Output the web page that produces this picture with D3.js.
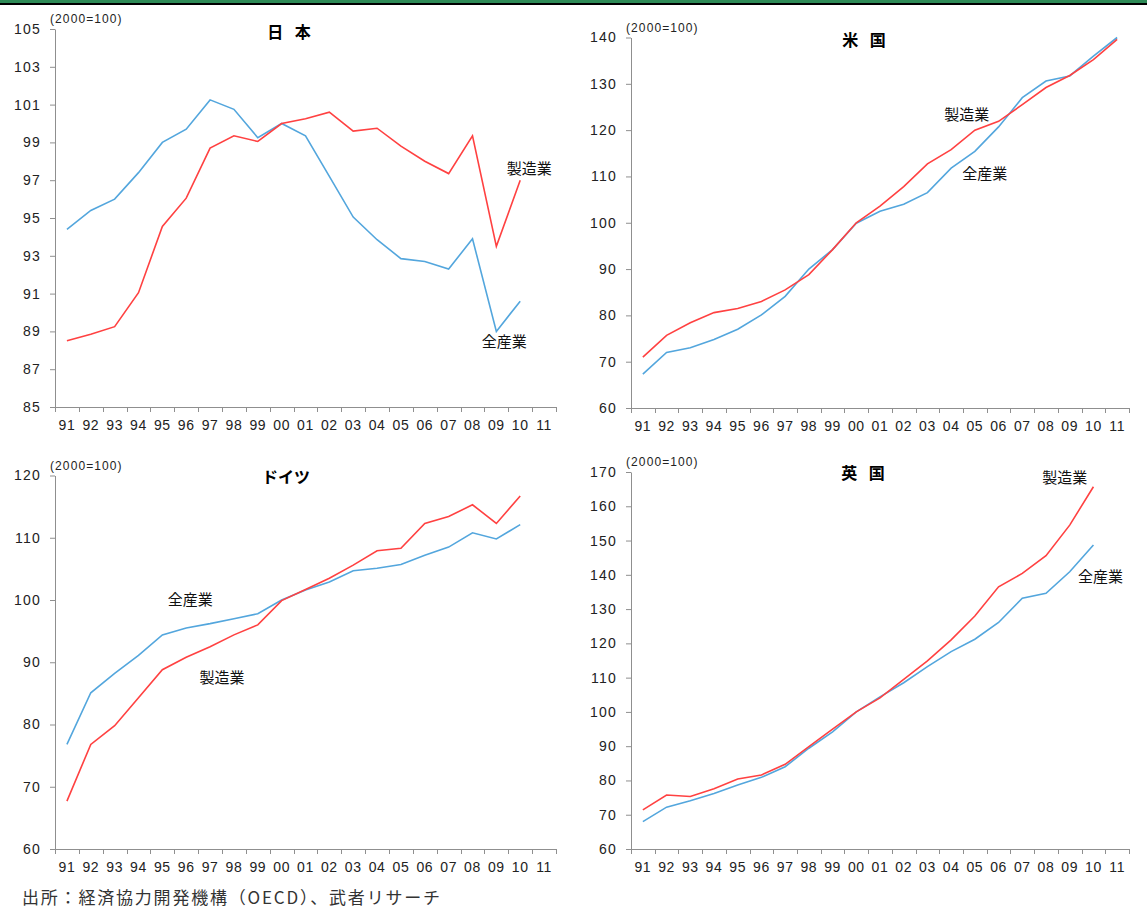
<!DOCTYPE html>
<html>
<head>
<meta charset="utf-8">
<script src="https://cdn.jsdelivr.net/npm/d3@7"></script>
<style>
  body { margin: 0; background: #fff; }
  svg { display: block; }
</style>
</head>
<body>
<div id="chart"></div>
<script>
// years on the x axis (1991 .. 2011)
const years = ["91","92","93","94","95","96","97","98","99","00","01","02","03","04","05","06","07","08","09","10","11"];

// 日本
const jpAll = [94.4, 95.4, 96.0, 97.4, 99.0, 99.7, 101.25, 100.75, 99.25, 100.0, 99.35, 97.2, 95.05, 93.85, 92.85, 92.7, 92.3, 93.9, 89.0, 90.6];
const jpMfg = [88.5, 88.85, 89.25, 91.05, 94.55, 96.05, 98.7, 99.35, 99.05, 100.0, 100.25, 100.6, 99.6, 99.75, 98.8, 98.0, 97.35, 99.35, 93.5, 97.0];
const jpTicks = [85, 87, 89, 91, 93, 95, 97, 99, 101, 103, 105];

// 米国
const usAll = [67.3, 72.0, 73.0, 74.8, 77.0, 80.1, 84.1, 90.0, 94.2, 99.9, 102.5, 104.0, 106.5, 111.8, 115.4, 120.7, 127.0, 130.6, 131.7, 136.0, 140.0];
const usMfg = [71.0, 75.7, 78.4, 80.6, 81.5, 83.0, 85.5, 88.8, 94.2, 100.0, 103.6, 107.8, 112.7, 115.8, 120.0, 121.9, 125.5, 129.2, 131.8, 135.2, 139.6];
const usTicks = [60, 70, 80, 90, 100, 110, 120, 130, 140];

// ドイツ
const deAll = [76.8, 85.1, 88.2, 91.1, 94.4, 95.5, 96.2, 97.0, 97.8, 100.0, 101.6, 102.9, 104.7, 105.1, 105.7, 107.2, 108.5, 110.8, 109.8, 112.1];
const deMfg = [67.7, 76.8, 79.8, 84.3, 88.8, 90.8, 92.5, 94.4, 96.0, 99.9, 101.7, 103.5, 105.6, 107.9, 108.3, 112.3, 113.4, 115.3, 112.3, 116.7];
const deTicks = [60, 70, 80, 90, 100, 110, 120];

// 英国
const ukAll = [68.0, 72.2, 74.1, 76.2, 78.7, 80.9, 84.0, 89.4, 94.2, 100.0, 104.4, 108.5, 113.2, 117.6, 121.2, 126.1, 133.2, 134.6, 140.9, 148.7];
const ukMfg = [71.4, 75.75, 75.3, 77.6, 80.4, 81.6, 84.7, 89.9, 95.0, 100.0, 104.1, 109.5, 114.9, 121.0, 128.0, 136.5, 140.4, 145.6, 154.5, 165.7];
const ukTicks = [60, 70, 80, 90, 100, 110, 120, 130, 140, 150, 160, 170];

const width = 1147;
const height = 908;
const RED = "#ff4141";
const BLUE = "#53a6dd";
const AXIS = "#8f8f8f";
const jpFont = "'Noto Sans CJK JP', 'Noto Sans', sans-serif";

const panels = [
  { title: "日 本", tx: 291, ty: 38, left: 55, right: 556, top: 29, bottom: 407,
    ticks: jpTicks, all: jpAll, mfg: jpMfg,
    notes: [{ text: "製造業", year: "10", v: 97.6, dx: 9 },
            { text: "全産業", year: "09", v: 88.45, dx: 8 }] },
  { title: "米 国", tx: 866, ty: 46, left: 631, right: 1129, top: 37.5, bottom: 408,
    ticks: usTicks, all: usAll, mfg: usMfg,
    notes: [{ text: "製造業", year: "05", v: 123.3, dx: -8 },
            { text: "全産業", year: "05", v: 110.6, dx: 10 }] },
  { title: "ドイツ", tx: 286, ty: 483, left: 55, right: 556, top: 475.5, bottom: 849,
    ticks: deTicks, all: deAll, mfg: deMfg,
    notes: [{ text: "全産業", year: "96", v: 100.0, dx: 4 },
            { text: "製造業", year: "97", v: 87.5, dx: 12 }] },
  { title: "英 国", tx: 865, ty: 479, left: 631, right: 1129, top: 472, bottom: 849,
    ticks: ukTicks, all: ukAll, mfg: ukMfg,
    notes: [{ text: "製造業", year: "09", v: 168.5, dx: -5 },
            { text: "全産業", year: "10", v: 139.4, dx: 7 }] }
];

const svg = d3.select("#chart")
  .append("svg")
  .attr("width", width)
  .attr("height", height);

svg.append("rect").attr("width", width).attr("height", height).attr("fill", "#fff");

// header band
svg.append("rect").attr("x", 0).attr("y", 0).attr("width", width).attr("height", 3).attr("fill", "#2e8b57");
svg.append("rect").attr("x", 0).attr("y", 3).attr("width", width).attr("height", 2).attr("fill", "#000");

panels.forEach(p => {
  const g = svg.append("g");

  const x = d3.scaleBand()
    .domain(years)
    .range([p.left, p.right])
    .padding(0);

  const y = d3.scaleLinear()
    .domain([p.ticks[0], p.ticks[p.ticks.length - 1]])
    .range([p.bottom, p.top]);

  const cx = d => x(d) + x.bandwidth() / 2;

  // y axis
  const yAxis = g.append("g")
    .attr("transform", "translate(" + p.left + ",0)")
    .call(d3.axisLeft(y).tickValues(p.ticks).tickSize(5).tickPadding(9).tickSizeOuter(0));
  yAxis.select(".domain").attr("stroke", AXIS);
  yAxis.selectAll(".tick line").attr("stroke", AXIS);
  yAxis.selectAll("text")
    .style("font", "14px 'Liberation Sans', Arial, sans-serif")
    .style("letter-spacing", "1.2px")
    .attr("fill", "#222");

  // x axis
  const xAxis = g.append("g")
    .attr("transform", "translate(0," + p.bottom + ")")
    .call(d3.axisBottom(x).tickSize(0).tickPadding(13).tickSizeOuter(0));
  xAxis.select(".domain").attr("stroke", AXIS);
  xAxis.selectAll("text")
    .style("font", "14px 'Liberation Sans', Arial, sans-serif")
    .style("letter-spacing", "0.6px")
    .attr("fill", "#222");

  // x tick marks sit on the category boundaries
  const bounds = years.map(d => x(d)).concat([x.range()[1]]);
  xAxis.selectAll(".bound")
    .data(bounds)
    .enter()
    .append("line")
    .attr("class", "bound")
    .attr("x1", d => Math.round(d) + 0.5)
    .attr("x2", d => Math.round(d) + 0.5)
    .attr("y1", 0)
    .attr("y2", 5)
    .attr("stroke", AXIS);

  // unit label
  g.append("text")
    .attr("x", p.left - 5)
    .attr("y", p.top - 6)
    .style("font", "12px 'Liberation Sans', Arial, sans-serif")
    .style("letter-spacing", "1.1px")
    .attr("fill", "#222")
    .text("(2000=100)");

  // title
  g.append("text")
    .attr("x", p.tx)
    .attr("y", p.ty)
    .attr("text-anchor", "middle")
    .style("font-family", jpFont)
    .style("font-size", "16px")
    .style("font-weight", "bold")
    .style("letter-spacing", p.title.indexOf(" ") > 0 ? "4px" : "0px")
    .attr("fill", "#000")
    .text(p.title);

  const line = d3.line()
    .x((d, i) => cx(years[i]))
    .y(d => y(d));

  g.append("path")
    .datum(p.all)
    .attr("fill", "none")
    .attr("stroke", BLUE)
    .attr("stroke-width", 1.6)
    .attr("d", line);

  g.append("path")
    .datum(p.mfg)
    .attr("fill", "none")
    .attr("stroke", RED)
    .attr("stroke-width", 1.6)
    .attr("d", line);

  g.selectAll(".note")
    .data(p.notes)
    .enter()
    .append("text")
    .attr("class", "note")
    .attr("x", d => cx(d.year) + d.dx)
    .attr("y", d => y(d.v))
    .attr("dy", "0.36em")
    .attr("text-anchor", "middle")
    .style("font-family", jpFont)
    .style("font-size", "15px")
    .attr("fill", "#111")
    .text(d => d.text);
});

// source
svg.append("text")
  .attr("x", 22)
  .attr("y", 904)
  .style("font-family", jpFont)
  .style("font-size", "17px")
  .style("letter-spacing", "1.8px")
  .attr("fill", "#333")
  .text("出所：経済協力開発機構（OECD）、武者リサーチ");
</script>
</body>
</html>
